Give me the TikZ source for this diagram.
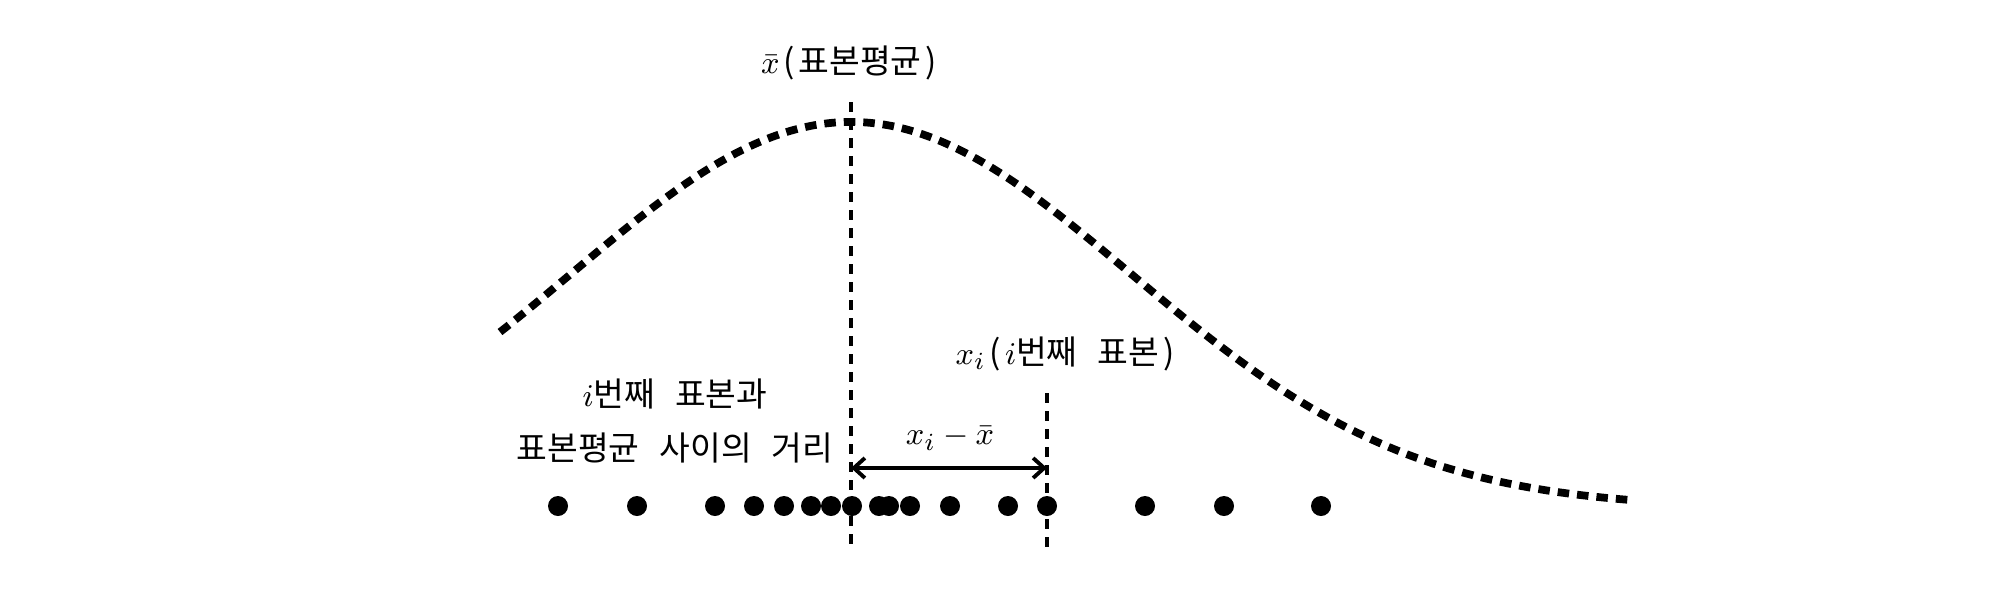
\documentclass[tikz,border=0pt]{standalone}
\usepackage{fontspec}
\newfontfamily\kr{Noto Sans CJK KR}
\usetikzlibrary{arrows.meta}
\newcommand{\ksp}{\hspace{0.6em}}
\newcommand{\lp}{\hspace{0.12em}(\hspace{0.12em}}
\newcommand{\rp}{\hspace{0.12em})}
\tikzset{
  lbl/.style={inner sep=0pt, font=\fontsize{9.5pt}{11pt}\selectfont\kr},
  vdash/.style={line width=1.1pt, dash pattern=on 0.1cm off 0.08cm},
  gcurve/.style={line width=2.2pt, dash pattern=on 0.115cm off 0.08cm},
  dot/.style={circle, fill=black, inner sep=0pt, minimum size=0.2cm},
  dimarrow/.style={line width=1.1pt, {Straight Barb[length=1.1mm,width=2mm]}-{Straight Barb[length=1.1mm,width=2mm]}}
}
\begin{document}
\begin{tikzpicture}[x=0.01cm, y=-0.01cm]
\useasboundingbox (0,0) rectangle (2000,600);
% gaussian curve
\draw[gcurve] plot[domain=500:1633, samples=200, smooth]
  (\x, {508-386*exp(-0.5*((\x-851)/280)^2)});
% dashed verticals
\coordinate (mtop) at (851,102);
\coordinate (mbot) at (851,550);
\coordinate (xtop) at (1047,393);
\coordinate (xbot) at (1047,550);
\draw[vdash] (mtop) -- (mbot);
\draw[vdash] (xtop) -- (xbot);
% arrow
\coordinate (al) at (851,468);
\coordinate (ar) at (1047,468);
\draw[dimarrow] (al) -- (ar);
% dots
\foreach \n/\px in {1/558,2/637,3/715,4/754,5/784,6/811,7/831,8/852,9/879,10/889,11/910,12/950,13/1008,14/1047,15/1145,16/1224,17/1321}
  \node[dot] (d\n) at (\px,506) {};
% labels
\node[lbl] (mean) at (849,63) {$\bar{x}$\lp 표본평균\rp};
\node[lbl] (xi) at (1065,354) {$x_i$\lp$i$번째\ksp 표본\rp};
\node[lbl] (diff) at (950,438) {$x_i-\bar{x}$};
\node[lbl] (l1) at (675,394) {$i$번째\ksp 표본과};
\node[lbl] (l2) at (675,448) {표본평균\ksp 사이의\ksp 거리};
\end{tikzpicture}
\end{document}
